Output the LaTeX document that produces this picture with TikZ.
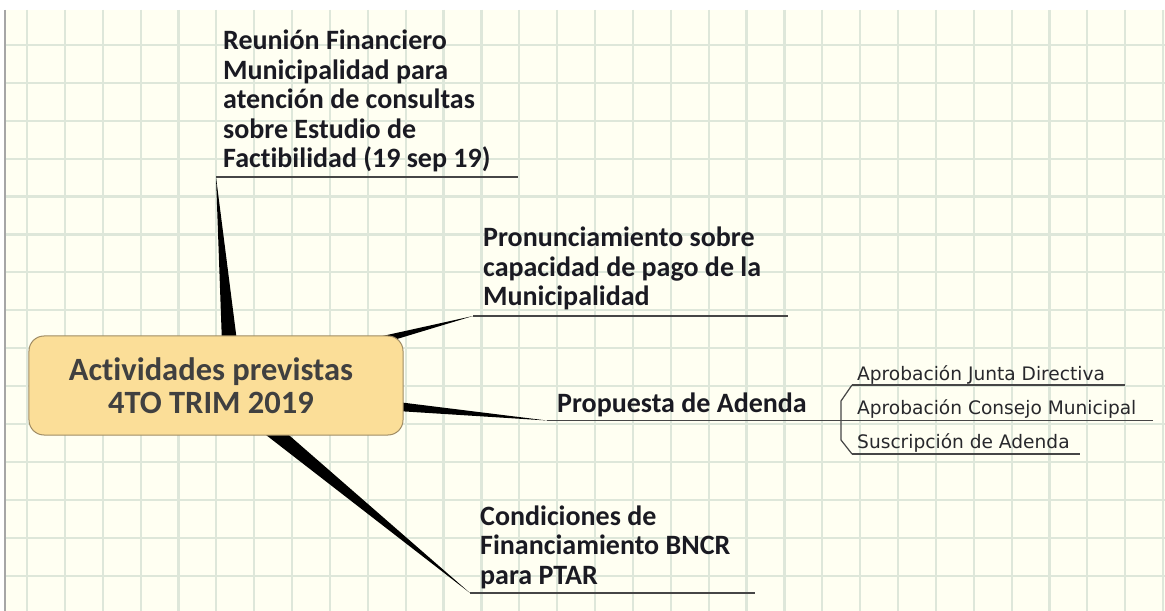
\documentclass[tikz,border=0pt]{standalone}
\usepackage{fontspec}
\setmainfont{Carlito}[Ligatures=NoCommon]
\newfontfamily\subfont{DejaVu Sans}
\usetikzlibrary{calc}
\definecolor{gridbg}{RGB}{255,255,242}
\definecolor{gridln}{RGB}{222,231,218}
\definecolor{rootfill}{RGB}{251,222,152}
\definecolor{rootdraw}{RGB}{160,140,100}
\definecolor{roottext}{RGB}{64,64,64}
\definecolor{topictext}{RGB}{26,26,34}
\definecolor{subtext}{RGB}{40,40,44}
\definecolor{linec}{RGB}{70,70,70}
\begin{document}
\begin{tikzpicture}[x=1bp,y=-1bp,
  topic/.style={anchor=base west, inner sep=0pt, text=topictext, font=\fontsize{28bp}{29.5bp}\selectfont\bfseries},
  subtopic/.style={anchor=base west, inner sep=0pt, text=subtext, font=\subfont\fontsize{18.6bp}{20bp}\selectfont},
  uline/.style={draw=linec, line width=1.2bp},
  wedge/.style={fill=black},
  gridline/.style={draw=gridln, line width=2.2bp},
]
\useasboundingbox (0,0) rectangle (1165,611);
\fill[white] (0,0) rectangle (1165,611);
\fill[gridbg] (4,10) rectangle (1165,611);
\foreach \k in {0,...,30} \draw[gridline] ({27+37.87*\k},10) -- ({27+37.87*\k},611);
\foreach \k in {0,...,14} \draw[gridline] (4,{45+37.9*\k}) -- (1165,{45+37.9*\k});
\draw[draw=black!35, line width=2bp] (4.5,10) -- (4.5,611);

% underline start / end points
\coordinate (t1) at (216,177);   \coordinate (t1e) at (518,177);
\coordinate (t2) at (473,316);   \coordinate (t2e) at (788,316);
\coordinate (t3) at (547,420.5); \coordinate (t3e) at (841,420.5);
\coordinate (t4) at (470,593);   \coordinate (t4e) at (755,593);
% wedge origins (hidden behind root)
\coordinate (o1) at (233,385);
\coordinate (o2) at (232,379);
\coordinate (o3) at (232,391);
\coordinate (o4) at (217,385);

\foreach \o/\t in {o1/t1,o2/t2,o3/t3,o4/t4}
  \fill[wedge] ($(\o)!9.5bp!90:(\t)$) -- (\t) -- ($(\o)!9.5bp!-90:(\t)$) -- cycle;

\node[draw=rootdraw, fill=rootfill, rounded corners=15bp, line width=1bp,
      minimum width=374bp, minimum height=99bp, inner sep=0pt, text=roottext,
      font=\fontsize{32.5bp}{33bp}\selectfont\bfseries, text height=30bp, text depth=41bp]
  (root) at (216,385.5) {\begin{tabular}[t]{@{}c@{}}Actividades previstas\\4TO TRIM 2019\end{tabular}\hspace*{10bp}};

\node[topic] (n1) at (223,168) {\begin{tabular}[b]{@{}l@{}}Reunión Financiero\\Municipalidad para\\atención de consultas\\sobre Estudio de\\Factibilidad (19 sep 19)\end{tabular}};
\node[topic] (n2) at (483,306) {\begin{tabular}[b]{@{}l@{}}Pronunciamiento sobre\\capacidad de pago de la\\Municipalidad\end{tabular}};
\node[topic] (n3) at (557,412) {Propuesta de Adenda};
\node[topic] (n4) at (480,584) {\begin{tabular}[b]{@{}l@{}}Condiciones de\\Financiamiento BNCR\\para PTAR\end{tabular}};

\draw[uline] (t1) -- (t1e);
\draw[uline] (t2) -- (t2e);
\draw[uline] (t3) -- (t3e);
\draw[uline] (t4) -- (t4e);

% subtopics
\coordinate (s1) at (852,385);   \coordinate (s1e) at (1125,385);
\coordinate (s2) at (852,420.5); \coordinate (s2e) at (1153,420.5);
\coordinate (s3) at (852,454);   \coordinate (s3e) at (1080,454);
\node[subtopic] (m1) at (857,380) {Aprobación Junta Directiva};
\node[subtopic] (m2) at (857,414) {Aprobación Consejo Municipal};
\node[subtopic] (m3) at (857,448) {Suscripción de Adenda};
\draw[uline] (s1) -- (s1e);
\draw[uline] (s2) -- (s2e);
\draw[uline] (s3) -- (s3e);
\draw[uline] (t3e) -- (s2);
\draw[uline] (s1) -- (841,401) -- (841,440) -- (s3);
\end{tikzpicture}
\end{document}
